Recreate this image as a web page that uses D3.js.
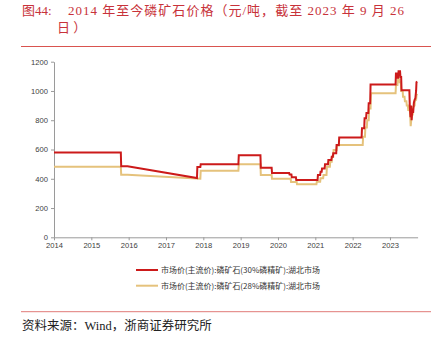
<!DOCTYPE html>
<html><head><meta charset="utf-8">
<script src="https://cdn.jsdelivr.net/npm/d3@7"></script>
<style>
html,body{margin:0;padding:0;background:#fff;}
svg{display:block;}
</style></head>
<body>
<svg id="c" width="439" height="344"></svg>
<script>
// ---- data (decimal years, yuan/ton) ----
const yearTicks = [2014,2015,2016,2017,2018,2019,2020,2021,2022,2023];
const yTicks = [0,200,400,600,800,1000,1200];
const seriesNames = ["市场价(主流价):磷矿石(30%磷精矿):湖北市场","市场价(主流价):磷矿石(28%磷精矿):湖北市场"];

const redDates = [2014.0,2015.79,2015.80,2015.97,2017.83,2017.84,2017.92,2017.93,2018.94,2018.95,2019.53,2019.54,2019.83,2019.84,2020.30,2020.31,2020.36,2020.37,2020.48,2020.49,
  2021.06,2021.07,2021.13,2021.14,2021.17,2021.18,2021.25,2021.26,2021.34,2021.35,2021.43,2021.44,2021.47,2021.48,2021.56,2021.57,2021.63,2021.64,
  2022.24,2022.25,2022.31,2022.32,2022.36,2022.37,2022.42,2022.43,2022.47,2022.48,
  2023.15,2023.16,2023.19,2023.20,2023.22,2023.23,2023.27,2023.28,2023.30,2023.31,2023.52,2023.53,2023.55,2023.565,2023.58,2023.60,2023.62,2023.64,2023.66,2023.68,2023.70,2023.71,2023.73];
const redValues = [580,580,485,485,405,480,480,500,500,560,560,476,476,440,440,430,430,410,410,392,
  392,425,425,448,448,470,470,500,500,528,528,551,551,574,574,631,631,682,
  682,745,745,813,813,850,850,916,916,1045,
  1045,1120,1120,1090,1090,1135,1135,1095,1095,1005,1005,900,820,900,800,880,850,920,940,950,1000,1060,1065];

const yelDates = [2014.0,2015.79,2015.80,2015.97,2017.92,2017.93,2018.94,2018.95,2019.53,2019.54,2019.83,2019.84,2020.34,2020.35,2020.50,2020.51,
  2021.03,2021.04,2021.13,2021.14,2021.21,2021.22,2021.30,2021.31,2021.39,2021.40,2021.44,2021.45,2021.48,2021.49,2021.57,2021.58,2021.64,2021.65,
  2022.27,2022.28,2022.33,2022.34,2022.38,2022.39,2022.43,2022.44,2022.48,2022.49,
  2023.15,2023.16,2023.20,2023.21,2023.25,2023.26,2023.29,2023.30,2023.34,2023.35,2023.39,2023.40,2023.44,2023.45,2023.48,2023.49,2023.53,2023.54,2023.555,2023.57,2023.59,2023.61,2023.62,2023.66,2023.67,2023.70,2023.71,2023.73];
const yelValues = [482,482,428,428,400,455,455,500,500,425,425,400,400,378,378,362,
  362,380,380,403,403,426,426,482,482,517,517,551,551,597,597,628,628,630,
  630,687,687,750,750,800,800,880,880,984,
  984,1040,1040,1080,1080,1060,1060,1000,1000,960,960,930,930,900,900,870,870,840,760,800,840,840,890,900,940,940,970,980];

// ---- layout ----
const svg = d3.select("#c");
const x = d3.scaleLinear().domain([2014, 2023.74]).range([54, 417.6]);
const y = d3.scaleLinear().domain([0, 1200]).range([237.3, 61.7]);
const axisColor = "#9a9a9a";
const redColor = "#cc1a1a";
const yelColor = "#e5c27c";
const titleColor = "#c8323a";

// title
const tFont = "'Liberation Serif','Noto Sans CJK SC',serif";
svg.append("text").attr("x",22).attr("y",15).attr("font-family",tFont).attr("font-size",13).attr("fill",titleColor)
  .text("图44:");
svg.append("text").attr("x",68).attr("y",15).attr("font-family",tFont).attr("font-size",13).attr("fill",titleColor)
  .attr("textLength",336).attr("lengthAdjust","spacing")
  .text("2014 年至今磷矿石价格（元/吨，截至 2023 年 9 月 26");
svg.append("text").attr("x",57).attr("y",32).attr("font-family",tFont).attr("font-size",13).attr("fill",titleColor)
  .text("日 ）");
svg.append("line").attr("x1",21).attr("x2",431).attr("y1",46.5).attr("y2",46.5).attr("stroke","#d9534f").attr("stroke-width",1);

// axes
const tickFont = "'Liberation Sans',Arial,sans-serif";
const gy = svg.append("g").attr("transform","translate(54,0)")
  .call(d3.axisLeft(y).tickValues(yTicks).tickFormat(d3.format("d")).tickSize(3).tickSizeOuter(0).tickPadding(3));
const gx = svg.append("g").attr("transform","translate(0,237.3)")
  .call(d3.axisBottom(x).tickValues(yearTicks).tickFormat(d3.format("d")).tickSize(3).tickSizeOuter(0).tickPadding(2));
[gx, gy].forEach(g => {
  g.select(".domain").attr("stroke",axisColor);
  g.selectAll(".tick line").attr("stroke",axisColor);
  g.selectAll(".tick text").attr("font-family",tickFont).attr("font-size",7.6).attr("fill","#404040");
});

// lines
const line = d3.line().x(d => x(d[0])).y(d => y(d[1]));
const yel = d3.zip(yelDates, yelValues);
const red = d3.zip(redDates, redValues);
svg.append("path").datum(yel).attr("d",line).attr("fill","none").attr("stroke",yelColor).attr("stroke-width",2).attr("stroke-linejoin","miter");
svg.append("path").datum(red).attr("d",line).attr("fill","none").attr("stroke",redColor).attr("stroke-width",2).attr("stroke-linejoin","miter");

// legend
const lgFont = "'Noto Sans CJK SC',sans-serif";
[[redColor, 270], [yelColor, 285.7]].forEach((c, i) => {
  svg.append("line").attr("x1",136).attr("x2",158).attr("y1",c[1]).attr("y2",c[1]).attr("stroke",c[0]).attr("stroke-width",2);
  svg.append("text").attr("x",161).attr("y",c[1]+2.8).attr("font-family",lgFont).attr("font-size",7.8).attr("fill","#333")
    .attr("textLength",159).attr("lengthAdjust","spacingAndGlyphs").text(seriesNames[i]);
});

// footer
svg.append("line").attr("x1",21).attr("x2",431).attr("y1",311.7).attr("y2",311.7).attr("stroke","#e07b78").attr("stroke-width",1);
svg.append("text").attr("x",22).attr("y",330).attr("font-family",tFont).attr("font-size",12.5).attr("fill","#222")
  .text("资料来源：Wind，浙商证券研究所");
</script>
</body></html>
